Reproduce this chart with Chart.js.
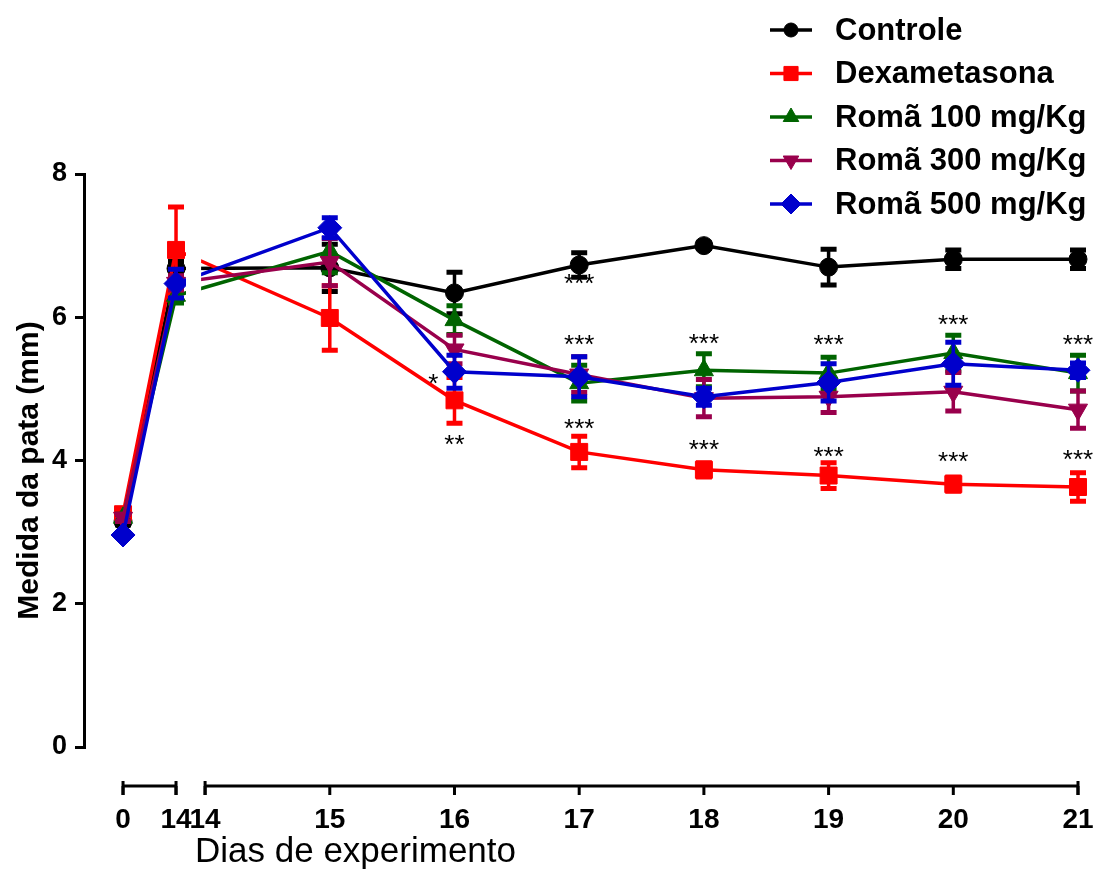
<!DOCTYPE html>
<html>
<head>
<meta charset="utf-8">
<script src="https://cdn.jsdelivr.net/npm/chart.js@4.4.0/dist/chart.umd.min.js"></script>
<style>
    html, body { margin: 0; padding: 0; background: #ffffff; }
    #wrap { width: 1095px; height: 870px; position: relative; }
</style>
</head>
<body>
<div id="wrap"><canvas id="paw-chart"></canvas></div>
<script>
// Days of the experiment; the first two sit on the short piece of the broken axis
const days = [0, 14, 15, 16, 17, 18, 19, 20, 21];
const daySegment = [1, 1, 2, 2, 2, 2, 2, 2, 2];

// Paw size (mm), mean and error per group
const controle = [3.15, 6.68, 6.69, 6.34, 6.73, 7.0, 6.7, 6.81, 6.81];
const controleErr = [0.05, 0.1, 0.33, 0.29, 0.17, 0.04, 0.25, 0.13, 0.13];
const dexametasona = [3.25, 6.94, 5.99, 4.84, 4.12, 3.87, 3.79, 3.67, 3.63];
const dexametasonaErr = [0.05, 0.6, 0.45, 0.32, 0.22, 0.1, 0.18, 0.1, 0.2];
const roma100 = [3.2, 6.3, 6.92, 5.96, 5.08, 5.26, 5.22, 5.5, 5.22];
const roma100Err = [0.05, 0.1, 0.3, 0.2, 0.25, 0.23, 0.22, 0.25, 0.25];
const roma300 = [3.2, 6.48, 6.77, 5.55, 5.2, 4.87, 4.89, 4.96, 4.71];
const roma300Err = [0.05, 0.1, 0.33, 0.2, 0.25, 0.26, 0.22, 0.27, 0.26];
const roma500 = [2.96, 6.47, 7.25, 5.24, 5.17, 4.89, 5.09, 5.35, 5.26];
const roma500Err = [0.03, 0.2, 0.14, 0.23, 0.28, 0.12, 0.26, 0.3, 0.1];

// Axis ticks
const tickDays = [0, 14, 14, 15, 16, 17, 18, 19, 20, 21];
const tickSegment = [1, 1, 2, 2, 2, 2, 2, 2, 2, 2];
const yTicks = [0, 2, 4, 6, 8];

// Significance marks (day, height in mm, text)
const sigDays = [15.83, 16, 17, 17, 17, 18, 18, 19, 19, 20, 20, 21, 21];
const sigValues = [5.17, 4.31, 6.56, 5.71, 4.54, 5.72, 4.24, 5.71, 4.15, 5.99, 4.07, 5.71, 4.1];
const sigMarks = ["*", "**", "***", "***", "***", "***", "***", "***", "***", "***", "***", "***", "***"];

const seriesNames = ["Controle", "Dexametasona", "Romã 100 mg/Kg", "Romã 300 mg/Kg", "Romã 500 mg/Kg"];
const seriesValues = [controle, dexametasona, roma100, roma300, roma500];
const seriesErrors = [controleErr, dexametasonaErr, roma100Err, roma300Err, roma500Err];

// Styles
const colors = ["#000000", "#ff0000", "#006400", "#99004c", "#0000cc"];
const markers = [
    { pointStyle: "circle", radius: 9, rotation: 0 },
    { pointStyle: "rect", radius: 12, rotation: 0 },
    { pointStyle: "triangle", radius: 11, rotation: 0 },
    { pointStyle: "triangle", radius: 11, rotation: 180 },
    { pointStyle: "rectRot", radius: 12, rotation: 0 },
];

// Broken x axis: day 0..14 squeezed into a short piece, then 14..21 at one unit per day
const SEG1_END = 0.425;
const SEG2_START = 0.658;
const X_MIN = -0.313;
const X_MAX = SEG2_START + 7;
const axisPos = (day, seg) =>
    seg === 1 ? (day / 14) * SEG1_END : SEG2_START + (day - 14);

const tickPositions = tickDays.map((d, i) => axisPos(d, tickSegment[i]));

const datasets = seriesNames
    .map((name, s) => ({
        label: name,
        data: days.map((d, i) => ({ x: axisPos(d, daySegment[i]), y: seriesValues[s][i] })),
        errors: seriesErrors[s],
        borderColor: colors[s],
        backgroundColor: colors[s],
        borderWidth: 3.5,
        tension: 0,
        pointStyle: markers[s].pointStyle,
        pointRadius: markers[s].radius,
        pointRotation: markers[s].rotation,
        pointBorderWidth: 1,
        pointBackgroundColor: colors[s],
        pointBorderColor: colors[s],
        clip: false,
    }))
    .reverse(); // last group drawn on top

const FONT = "'Liberation Sans', Arial, sans-serif";

const prismPlugin = {
    id: "prism",
    beforeDatasetsDraw(chart) {
        // hide the lines where the x axis is broken
        const { ctx } = chart;
        const x = chart.scales.x;
        const gapL = x.getPixelForValue(SEG1_END) + 10;
        const gapR = x.getPixelForValue(SEG2_START) - 4;
        ctx.save();
        ctx.beginPath();
        ctx.rect(0, 0, gapL, chart.height);
        ctx.rect(gapR, 0, chart.width - gapR, chart.height);
        ctx.clip();
    },
    afterDatasetsDraw(chart) {
        chart.ctx.restore();
    },
    beforeDatasetDraw(chart, args) {
        // error bars
        const ds = chart.data.datasets[args.index];
        const { ctx } = chart;
        const x = chart.scales.x;
        const y = chart.scales.y;
        ctx.save();
        ctx.strokeStyle = ds.borderColor;
        ds.data.forEach((p, i) => {
            const e = ds.errors[i];
            const px = x.getPixelForValue(p.x);
            const top = y.getPixelForValue(p.y + e);
            const bot = y.getPixelForValue(p.y - e);
            ctx.lineWidth = 3.5;
            ctx.beginPath();
            ctx.moveTo(px, top);
            ctx.lineTo(px, bot);
            ctx.stroke();
            ctx.lineWidth = 5;
            ctx.beginPath();
            ctx.moveTo(px - 8, top);
            ctx.lineTo(px + 8, top);
            ctx.moveTo(px - 8, bot);
            ctx.lineTo(px + 8, bot);
            ctx.stroke();
        });
        ctx.restore();
    },
    afterDraw(chart) {
        const { ctx, chartArea } = chart;
        const x = chart.scales.x;
        const y = chart.scales.y;
        ctx.save();

        // x axis, drawn offset below the plot in two pieces
        const ay = chartArea.bottom + 39;
        ctx.strokeStyle = "#000";
        ctx.lineWidth = 3;
        const pieces = [
            [0, SEG1_END],
            [SEG2_START, X_MAX],
        ];
        pieces.forEach(([a, b]) => {
            const xa = x.getPixelForValue(a);
            const xb = x.getPixelForValue(b);
            ctx.beginPath();
            ctx.moveTo(xa, ay);
            ctx.lineTo(xb, ay);
            ctx.moveTo(xa, ay - 5);
            ctx.lineTo(xa, ay + 9);
            ctx.moveTo(xb, ay - 5);
            ctx.lineTo(xb, ay + 9);
            ctx.stroke();
        });
        ctx.beginPath();
        tickPositions.forEach((t) => {
            const px = x.getPixelForValue(t);
            ctx.moveTo(px, ay);
            ctx.lineTo(px, ay + 9);
        });
        ctx.stroke();

        // significance marks
        ctx.fillStyle = "#000";
        ctx.font = "normal 26px " + FONT;
        ctx.textAlign = "center";
        ctx.textBaseline = "alphabetic";
        sigMarks.forEach((m, i) => {
            const px = x.getPixelForValue(axisPos(sigDays[i], 2));
            const py = y.getPixelForValue(sigValues[i]);
            ctx.fillText(m, px, py + 0.57 * 26);
        });

        // axis titles
        ctx.font = "bold 30px " + FONT;
        ctx.save();
        ctx.translate(38, (chartArea.top + chartArea.bottom) / 2 + 10);
        ctx.rotate(-Math.PI / 2);
        ctx.textAlign = "center";
        ctx.fillText("Medida da pata (mm)", 0, 0);
        ctx.restore();

        ctx.font = "normal 35px " + FONT;
        ctx.textAlign = "left";
        ctx.fillText("Dias de experimento", 195, 862);

        // legend
        ctx.font = "bold 31px " + FONT;
        ctx.textBaseline = "middle";
        seriesNames.forEach((name, s) => {
            const ly = 30 + s * 43.5;
            ctx.strokeStyle = colors[s];
            ctx.fillStyle = colors[s];
            ctx.lineWidth = 3.5;
            ctx.beginPath();
            ctx.moveTo(770, ly);
            ctx.lineTo(812, ly);
            ctx.stroke();
            ctx.lineWidth = 1;
            Chart.helpers.drawPoint(
                ctx,
                {
                    pointStyle: markers[s].pointStyle,
                    radius: markers[s].radius - 2,
                    rotation: markers[s].rotation,
                    borderWidth: 1,
                },
                791,
                ly
            );
            ctx.fillStyle = "#000";
            ctx.fillText(name, 835, ly + 1);
        });

        ctx.restore();
    },
};

const ctx = document.getElementById("paw-chart");

new Chart(ctx, {
    type: "line",
    data: { datasets: datasets },
    options: {
        responsive: true,
        maintainAspectRatio: false,
        animation: false,
        layout: {
            padding: { top: 174, right: 17, left: 0, bottom: 0 },
        },
        scales: {
            x: {
                type: "linear",
                min: X_MIN,
                max: X_MAX,
                afterFit: (scale) => {
                    scale.height = 123;
                    // keep the plot edges fixed, labels may overhang
                    scale.paddingLeft = 0;
                    scale.paddingRight = 0;
                },
                afterBuildTicks: (scale) => {
                    scale.ticks = tickPositions.map((v) => ({ value: v }));
                },
                border: { display: false },
                grid: { display: false, drawTicks: false },
                ticks: {
                    autoSkip: false,
                    maxRotation: 0,
                    padding: 56,
                    color: "#000",
                    font: { family: FONT, size: 28, weight: "bold" },
                    callback: (value, index) => String(tickDays[index]),
                },
            },
            y: {
                min: 0,
                max: 8,
                afterFit: (scale) => {
                    scale.width = 84;
                },
                afterBuildTicks: (scale) => {
                    scale.ticks = yTicks.map((v) => ({ value: v }));
                },
                border: { display: true, color: "#000", width: 3 },
                grid: {
                    drawOnChartArea: false,
                    drawTicks: true,
                    tickLength: 9,
                    color: "#000",
                    lineWidth: 3,
                },
                ticks: {
                    padding: 8,
                    color: "#000",
                    font: { family: FONT, size: 27, weight: "bold" },
                },
            },
        },
        plugins: {
            legend: { display: false },
            tooltip: { enabled: false },
        },
    },
    plugins: [prismPlugin],
});
</script>
</body>
</html>
